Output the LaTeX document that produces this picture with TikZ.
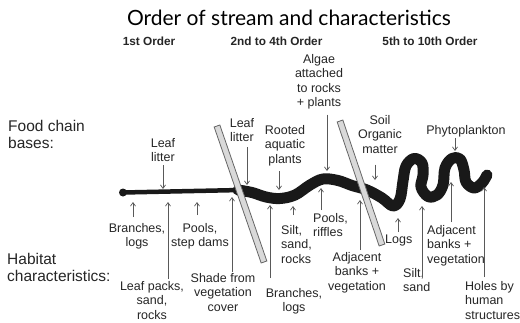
\documentclass[tikz,border=0pt]{standalone}
\usepackage{fontspec}
\setmainfont{Liberation Sans}
\newfontfamily\titlefont{Lato}
\usetikzlibrary{calc,arrows.meta}
\begin{document}
\begin{tikzpicture}[x=1pt,y=-1pt,
  lbl/.style={font=\fontsize{12.5}{14.5}\selectfont, align=center, inner sep=0pt, anchor=north, text=black!85},
  lbll/.style={lbl, align=left, anchor=north west},
  rowlbl/.style={font=\fontsize{15.5}{17.5}\selectfont, align=left, inner sep=0pt, anchor=north west, text=black!85},
  hdr/.style={font=\fontsize{11.8}{13}\selectfont\bfseries, inner sep=0pt, anchor=base, text=black!85},
  arr/.style={draw=black!65, line width=0.7pt, -{Straight Barb[length=3.5pt,width=5pt]}},
  stream/.style={line cap=round, line join=round, draw=black!90},
  bar/.style={draw=black!60, fill=black!15, line width=0.8pt, line join=miter}
]
\useasboundingbox (0,0) rectangle (520,322);
\fill[white] (0,0) rectangle (520,322);

% title and column headings
\node[font=\titlefont\fontsize{21}{24}\selectfont, anchor=base, inner sep=0pt] (title) at (289,25) {Order of stream and characteristics};
\node[hdr] (h1) at (149,45) {1st Order};
\node[hdr] (h2) at (276.5,45) {2nd to 4th Order};
\node[hdr] (h3) at (430,45) {5th to 10th Order};

% row headings
\node[rowlbl] (food) at (8,120) {Food chain\\bases:};
\node[rowlbl] (habitat) at (7,253) {Habitat\\characteristics:};

% the stream: narrow headwater, widening meander, tight meanders
\fill[black!90] (123,192.5) circle (4);
\draw[stream, line width=4.5pt] (123,192.5) -- (241,190);
\draw[stream, line width=11pt] plot[smooth, tension=0.6] coordinates {
  (238,190) (252,192.5) (266,197) (280,198.5) (295,195) (310,185) (323,179)
  (338,180.5) (352,185.5) (367,190) (382,198) (393,206) (400,199) (403,181)
  (406,166) (414,158.5) (422,163) (423,175) (421,187) (428,196.5) (437,195)
  (443,185) (445,168) (452,158.5) (460,159) (464,170) (466,182) (474,188)
  (482,183) (487,175)};

% the two tilted bars across the stream
\coordinate (b1s) at (217,126);
\coordinate (b1e) at (264,262);
\coordinate (b2s) at (340,121);
\coordinate (b2e) at (382,245);
\draw[bar] ($(b1s)!3pt!90:(b1e)$) -- ($(b1e)!3pt!-90:(b1s)$) -- ($(b1e)!3pt!90:(b1s)$) -- ($(b1s)!3pt!-90:(b1e)$) -- cycle;
\draw[bar] ($(b2s)!3pt!90:(b2e)$) -- ($(b2e)!3pt!-90:(b2s)$) -- ($(b2e)!3pt!90:(b2s)$) -- ($(b2s)!3pt!-90:(b2e)$) -- cycle;

% points on the stream that the labels point to
\coordinate (t1) at (163,189);
\coordinate (t2) at (247,185);
\coordinate (t3) at (279,190);
\coordinate (t4) at (327,171);
\coordinate (t5) at (375,180);
\coordinate (t6) at (455,151);
\coordinate (b7) at (133,202);
\coordinate (b8) at (168,202);
\coordinate (b9) at (197,202);
\coordinate (b10) at (232,197);
\coordinate (b11) at (270,205);
\coordinate (b12) at (293,206);
\coordinate (b13) at (321,188);
\coordinate (b14) at (360,200);
\coordinate (b15) at (398,218);
\coordinate (b16) at (422,206);
\coordinate (b17) at (451,182);
\coordinate (b18) at (484,187);

% food chain bases
\node[lbl] (l1) at (163,138) {Leaf\\litter};
\node[lbl] (l2) at (242,118) {Leaf\\litter};
\node[lbl] (l3) at (285,125) {Rooted\\aquatic\\plants};
\node[lbl] (l4) at (319,54) {Algae\\attached\\to rocks\\+ plants};
\node[lbl] (l5) at (380,115) {Soil\\Organic\\matter};
\node[lbl] (l6) at (466,125) {Phytoplankton};

\draw[arr, shorten <=3pt] (l1.south -| t1) -- (t1);
\draw[arr, shorten <=5pt] (l2.south -| t2) -- (t2);
\draw[arr, shorten <=5pt] (l3.south -| t3) -- (t3);
\draw[arr, shorten <=5pt] (l4.south -| t4) -- (t4);
\draw[arr, shorten <=11pt] (l5.south -| t5) -- (t5);
\draw[arr, shorten <=1pt] (l6.south -| t6) -- (t6);

% habitat characteristics
\node[lbl] (l7) at (137,223) {Branches,\\logs};
\node[lbl] (l8) at (152,281) {Leaf packs,\\sand,\\rocks};
\node[lbl] (l9) at (200,223) {Pools,\\step dams};
\node[lbl] (l10) at (223,273) {Shade from\\vegetation\\cover};
\node[lbl] (l11) at (294,288) {Branches,\\logs};
\node[lbll] (l12) at (281,225) {Silt,\\sand,\\rocks};
\node[lbll] (l13) at (313,213) {Pools,\\riffles};
\node[lbl] (l14) at (357,252) {Adjacent\\banks +\\vegetation};
\node[lbll] (l15) at (385,235) {Logs};
\node[lbll] (l16) at (403,268) {Silt,\\sand};
\node[lbll] (l17) at (427,225) {Adjacent\\banks +\\vegetation};
\node[lbll] (l18) at (465,281) {Holes by\\human\\structures};

\draw[arr, shorten <=6pt] (l7.north -| b7) -- (b7);
\draw[arr, shorten <=2pt] (l8.north -| b8) -- (b8);
\draw[arr, shorten <=8pt] (l9.north -| b9) -- (b9);
\draw[arr, shorten <=1.5pt] (l10.north -| b10) -- (b10);
\draw[arr, shorten <=10pt] (l11.north -| b11) -- (b11);
\draw[arr, shorten <=10pt] (l12.north -| b12) -- (b12);
\draw[arr, shorten <=3pt] (l13.north -| b13) -- (b13);
\draw[arr, shorten <=2pt] (l14.north -| b14) -- (b14);
\draw[arr, shorten <=3pt] (l15.north -| b15) -- (b15);
\draw[arr, shorten <=-9pt] (l16.north -| b16) -- (b16);
\draw[arr, shorten <=3pt] (l17.north -| b17) -- (b17);
\draw[arr, shorten <=4pt] (l18.north -| b18) -- (b18);
\end{tikzpicture}
\end{document}
